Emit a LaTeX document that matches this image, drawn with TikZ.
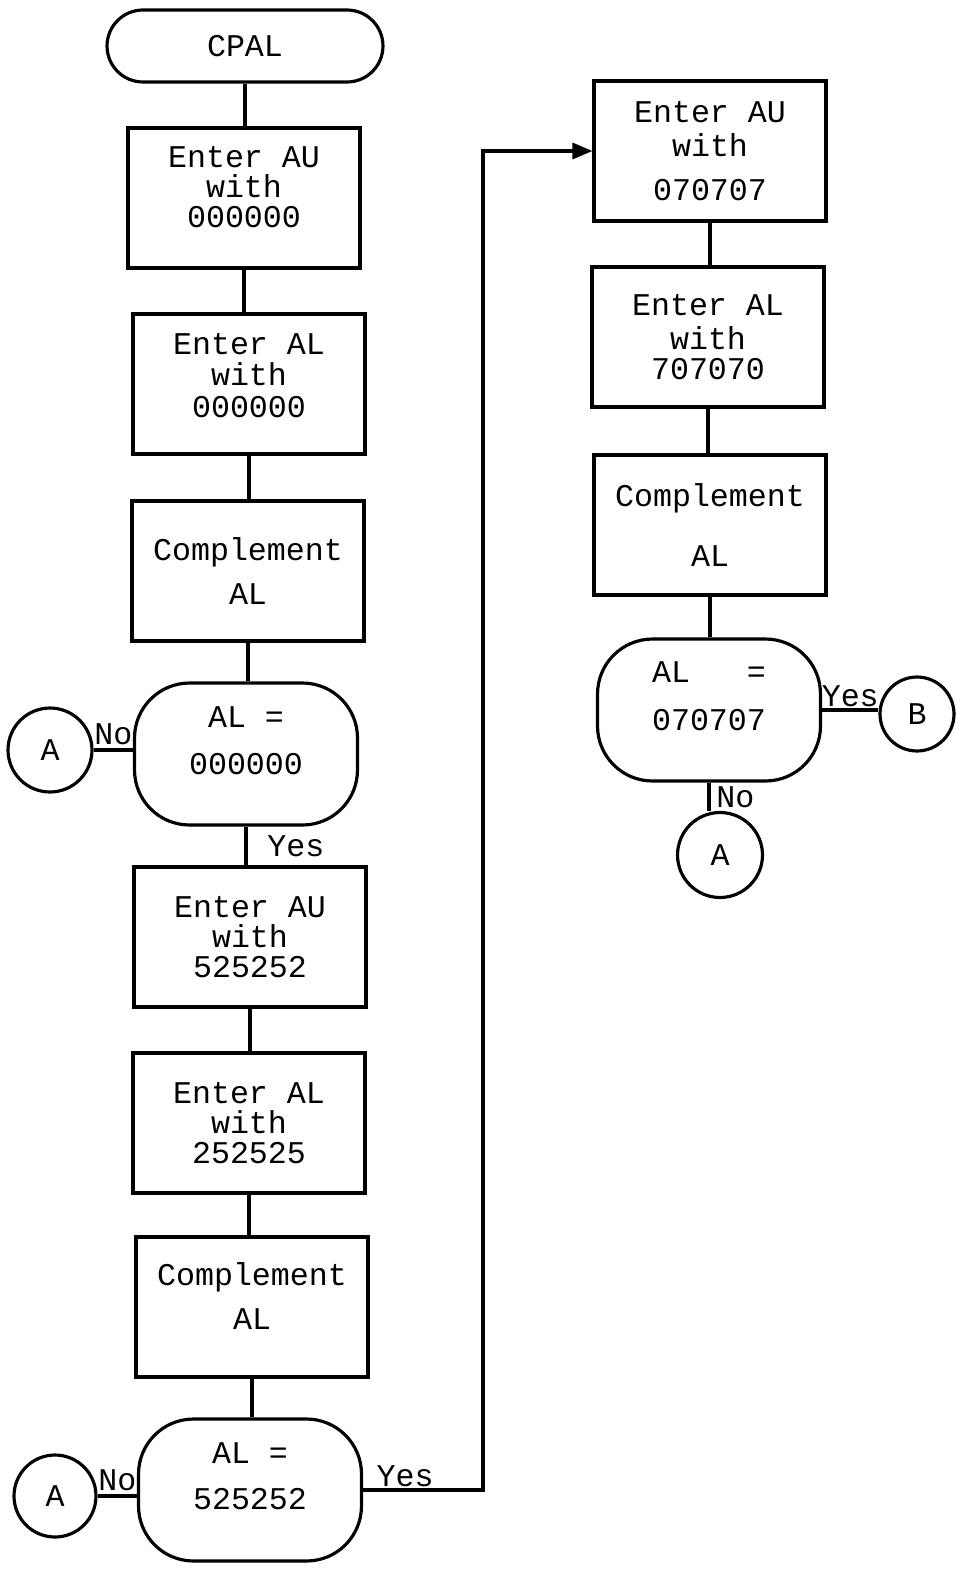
\documentclass[tikz,border=0pt]{standalone}
\usepackage{fontspec}
\newfontfamily\typewriter{Liberation Mono}
\usetikzlibrary{arrows.meta}

\begin{document}
\begin{tikzpicture}[x=0.02cm, y=-0.02cm,
  every node/.style={font=\typewriter\fontsize{18}{17}\selectfont},
  terminal/.style={draw, line width=1.8pt, rounded corners=0.72cm, minimum width=5.52cm, minimum height=1.44cm},
  process/.style={draw, line width=1.8pt, align=center, minimum width=4.64cm, minimum height=2.8cm},
  decision/.style={draw, line width=1.8pt, align=center, rounded corners=1.1cm, minimum width=4.46cm, minimum height=2.84cm, text depth=0.55cm},
  connector/.style={draw, circle, line width=1.8pt, minimum size=1.68cm, inner sep=0pt},
  flow/.style={line width=1.8pt}]
  \useasboundingbox (0,0) rectangle (964,1575);

  % left column
  \node[terminal] (cpal) at (245,46) {CPAL};
  \node[process, text depth=0.45cm] (au1) at (244,198) {Enter AU\\with\\000000};
  \node[process, text depth=0.35cm] (al1) at (249,384) {Enter AL\\[1pt]with\\[1pt]000000};
  \node[process] (comp1) at (248,571) {Complement\\[0.3cm]AL};
  \node[decision] (test1) at (246,754) {AL =\\[0.34cm]000000};
  \node[connector] (a1) at (50,750) {A};
  \node[process] (au2) at (250,937) {Enter AU\\with\\525252};
  \node[process] (al2) at (249,1123) {Enter AL\\with\\252525};
  \node[process, text depth=0.45cm] (comp2) at (252,1307) {Complement\\[0.28cm]AL};
  \node[decision] (test2) at (250,1490) {AL =\\[0.32cm]525252};
  \node[connector, minimum size=1.64cm] (a2) at (55,1496) {A};

  % right column
  \node[process] (au3) at (710,151) {Enter AU\\[0.08cm]with\\[0.28cm]070707};
  \node[process] (al3) at (708,337) {Enter AL\\[0.1cm]with\\707070};
  \node[process] (comp3) at (710,525) {Complement\\[0.6cm]AL};
  \node[decision] (test3) at (709,710) {AL\ \ \ =\\[0.36cm]070707};
  \node[connector, minimum size=1.48cm] (b) at (917,714) {B};
  \node[connector, minimum size=1.7cm] (a3) at (720,855) {A};

  \coordinate (bend) at (483,1494);

  % connectors
  \draw[flow] (cpal.south) -- (cpal.south |- au1.north);
  \draw[flow] (au1.south) -- (au1.south |- al1.north);
  \draw[flow] (al1.south) -- (al1.south |- comp1.north);
  \draw[flow] (comp1.south) -- (comp1.south |- test1.north);
  \draw[flow] (a1.east) -- node[above, inner sep=2pt]{No} (a1.east -| test1.west);
  \draw[flow] (test1.south) -- node[right, xshift=8pt]{Yes} (test1.south |- au2.north);
  \draw[flow] (au2.south) -- (au2.south |- al2.north);
  \draw[flow] (al2.south) -- (al2.south |- comp2.north);
  \draw[flow] (comp2.south) -- (comp2.south |- test2.north);
  \draw[flow] (a2.east) -- node[above, inner sep=2pt]{No} (a2.east -| test2.west);
  \draw[flow, -{Triangle[length=0.4cm, width=0.32cm]}] (test2.east)
    -- node[above, pos=0.35, inner sep=1pt]{Yes} (test2.east -| bend) |- (au3.west);
  \draw[flow] (au3.south) -- (au3.south |- al3.north);
  \draw[flow] (al3.south) -- (al3.south |- comp3.north);
  \draw[flow] (comp3.south) -- (comp3.south |- test3.north);
  \draw[flow] (test3.east) -- node[above, inner sep=1pt]{Yes} (test3.east -| b.west);
  \draw[flow] (test3.south) -- node[right]{No} (test3.south |- a3.north);
\end{tikzpicture}
\end{document}
